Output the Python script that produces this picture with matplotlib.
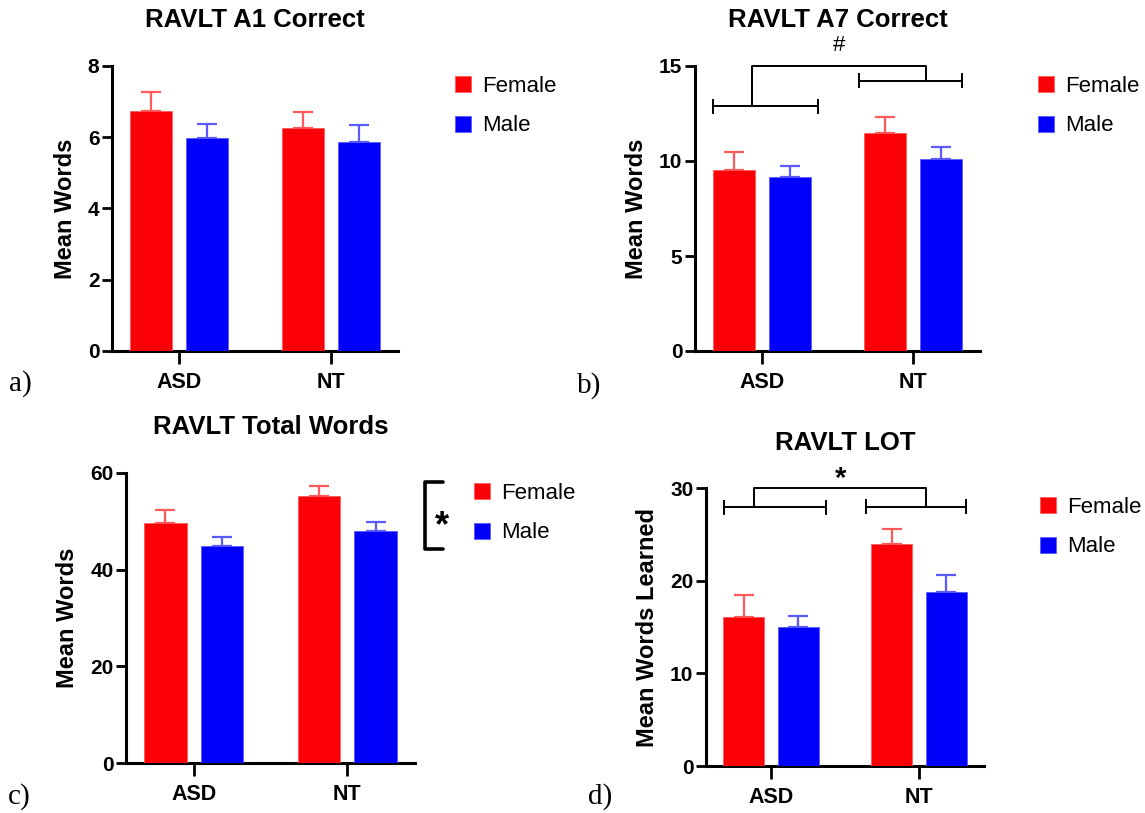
import numpy as np
import matplotlib
matplotlib.use('Agg')
import matplotlib.pyplot as plt
import matplotlib.transforms as mtransforms

plt.rcParams['font.family'] = ['Liberation Sans', 'DejaVu Sans']

W, H = 1145, 813

GROUPS = ['ASD', 'NT']
SEXES = ['Female', 'Male']

# panel a: RAVLT A1 correct
A1_FEMALE = [6.74, 6.27]
A1_FEMALE_SEM = [0.54, 0.44]
A1_MALE = [5.99, 5.86]
A1_MALE_SEM = [0.39, 0.47]

# panel b: RAVLT A7 correct
A7_FEMALE = [9.53, 11.46]
A7_FEMALE_SEM = [0.95, 0.83]
A7_MALE = [9.15, 10.08]
A7_MALE_SEM = [0.60, 0.66]

# panel c: RAVLT total words
TOT_FEMALE = [49.7, 55.2]
TOT_FEMALE_SEM = [2.7, 2.2]
TOT_MALE = [44.8, 47.9]
TOT_MALE_SEM = [2.0, 2.0]

# panel d: RAVLT learning over trials
LOT_FEMALE = [16.1, 24.0]
LOT_FEMALE_SEM = [2.3, 1.6]
LOT_MALE = [15.0, 18.8]
LOT_MALE_SEM = [1.2, 1.8]

RED = '#fb0006'
BLUE = '#0000fb'
RED_ERR = '#ff5a5a'
BLUE_ERR = '#5a5aff'

BAR_W = 0.276
OFFSET = 0.184


def px_axes(fig, left, right, bottom, top):
    return fig.add_axes([left / W, 1 - bottom / H, (right - left) / W, (bottom - top) / H])


def draw_panel(ax, female, female_sem, male, male_sem, ymax, step, ylabel):
    x = np.arange(len(GROUPS))
    for vals, sem, pos, col, ecol, lab in [
        (female, female_sem, x - OFFSET, RED, RED_ERR, SEXES[0]),
        (male, male_sem, x + OFFSET, BLUE, BLUE_ERR, SEXES[1]),
    ]:
        ax.bar(pos, vals, BAR_W, color=col, edgecolor=ecol, linewidth=0.6, label=lab, zorder=3)
        ax.errorbar(pos, vals, yerr=[np.zeros(len(vals)), sem], fmt='none',
                    ecolor=ecol, elinewidth=1.6, capsize=7, capthick=1.6, zorder=2)
    ax.set_xlim(-0.44, 1.44)
    ax.set_ylim(0, ymax)
    ax.set_yticks(np.arange(0, ymax + 0.001, step))
    ax.set_xticks(x)
    ax.set_xticklabels(GROUPS)
    for s in ['top', 'right']:
        ax.spines[s].set_visible(False)
    for s in ['left', 'bottom']:
        ax.spines[s].set_linewidth(2.2)
    ax.tick_params(axis='y', length=7, width=2, labelsize=15, pad=2)
    ax.tick_params(axis='x', length=9, width=2, labelsize=15.5, pad=6)
    for lab in ax.get_xticklabels() + ax.get_yticklabels():
        lab.set_fontweight('bold')
    ax.set_ylabel(ylabel, fontsize=17, fontweight='bold', labelpad=8)
    return x


def add_legend(fig, ax, x_px, y_px):
    ax.legend(loc='upper left', bbox_to_anchor=(x_px / W, 1 - y_px / H),
              bbox_transform=fig.transFigure, frameon=False, fontsize=16,
              handlelength=0.72, handleheight=0.72, handletextpad=0.5,
              labelspacing=0.83, borderpad=0, borderaxespad=0)


def group_bracket(ax, x, ylow_l, ylow_r, ytop, arms, symbol, size, weight, lift):
    lw = 1.4
    cap = 0.022 * ytop
    spans = [(x[0] - 0.32, x[0] + 0.37), (x[1] - 0.36, x[1] + 0.32)]
    for (a, b), y in zip(spans, [ylow_l, ylow_r]):
        ax.plot([a, b], [y, y], color='black', lw=lw, clip_on=False, zorder=4)
        for xx in (a, b):
            ax.plot([xx, xx], [y - cap, y + cap], color='black', lw=lw, clip_on=False, zorder=4)
    xl, xr = x[0] + arms[0], x[1] + arms[1]
    ax.plot([xl, xl, xr, xr], [ylow_l, ytop, ytop, ylow_r], color='black', lw=lw,
            clip_on=False, zorder=4)
    ax.annotate(symbol, ((xl + xr) / 2, ytop), xytext=(0, lift), textcoords='offset points',
                ha='center', va='baseline', fontsize=size, fontweight=weight,
                annotation_clip=False)


fig = plt.figure(figsize=(W / 100, H / 100), dpi=100)

# a
ax_a = px_axes(fig, 112, 398, 351, 66)
draw_panel(ax_a, A1_FEMALE, A1_FEMALE_SEM, A1_MALE, A1_MALE_SEM, 8, 2, 'Mean Words')
add_legend(fig, ax_a, 455, 76)
fig.text(255 / W, 1 - 20 / H, 'RAVLT A1 Correct', ha='center', va='center',
         fontsize=18.5, fontweight='bold')

# b
ax_b = px_axes(fig, 695, 980, 351, 66)
xb = draw_panel(ax_b, A7_FEMALE, A7_FEMALE_SEM, A7_MALE, A7_MALE_SEM, 15, 5, 'Mean Words')
add_legend(fig, ax_b, 1038, 76)
fig.text(838 / W, 1 - 20 / H, 'RAVLT A7 Correct', ha='center', va='center',
         fontsize=18.5, fontweight='bold')
group_bracket(ax_b, xb, 12.88, 14.23, 15.0, (-0.065, 0.085), '#', 16, 'normal', 10.5)

# c
ax_c = px_axes(fig, 126, 415, 763, 473)
draw_panel(ax_c, TOT_FEMALE, TOT_FEMALE_SEM, TOT_MALE, TOT_MALE_SEM, 60, 20, 'Mean Words')
add_legend(fig, ax_c, 474, 483)
fig.text(271 / W, 1 - 427 / H, 'RAVLT Total Words', ha='center', va='center',
         fontsize=18.5, fontweight='bold')
trans_c = mtransforms.blended_transform_factory(ax_c.transAxes, ax_c.transData)
ax_c.plot([1.097, 1.035, 1.035, 1.097], [58.1, 58.1, 44.3, 44.3], color='black', lw=2.6,
          transform=trans_c, clip_on=False, solid_capstyle='round')
ax_c.text(1.093, 47.0, '*', transform=trans_c, ha='center', va='baseline',
          fontsize=26, fontweight='bold')

# d
ax_d = px_axes(fig, 706, 984, 766, 488)
xd = draw_panel(ax_d, LOT_FEMALE, LOT_FEMALE_SEM, LOT_MALE, LOT_MALE_SEM, 30, 10,
                'Mean Words Learned')
add_legend(fig, ax_d, 1040, 497)
fig.text(845 / W, 1 - 443 / H, 'RAVLT LOT', ha='center', va='center',
         fontsize=18.5, fontweight='bold')
group_bracket(ax_d, xd, 27.9, 28.0, 30.0, (-0.115, 0.05), '*', 21, 'bold', 0.5)

# panel letters
for lab, xp, yp in [('a)', 9, 384), ('b)', 577, 386), ('c)', 8, 797), ('d)', 588, 797)]:
    fig.text(xp / W, 1 - yp / H, lab, ha='left', va='center', fontsize=21,
             family=['Liberation Serif', 'DejaVu Serif'])

fig.savefig('out.png', dpi=100)
